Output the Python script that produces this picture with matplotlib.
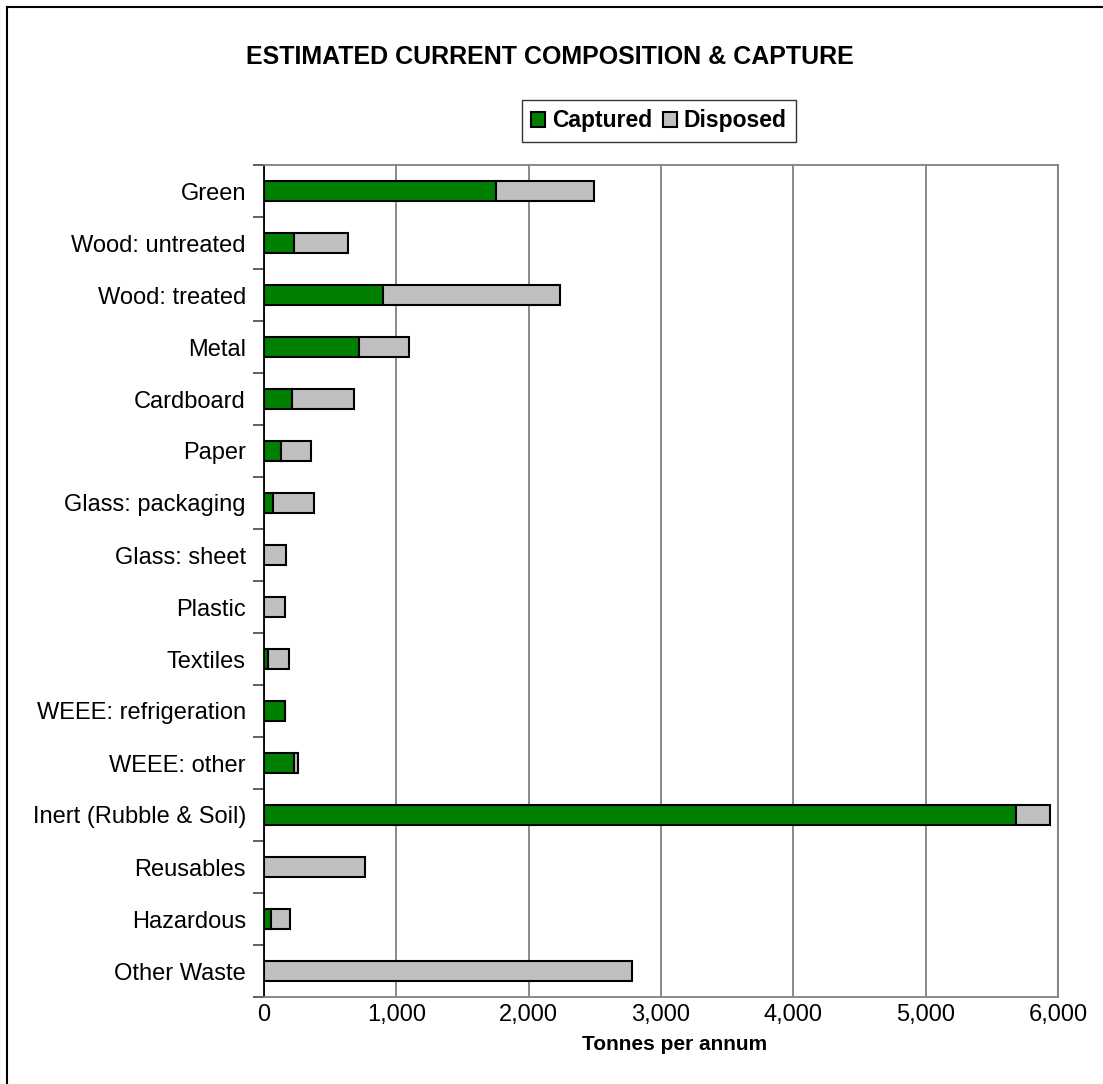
import numpy as np
import matplotlib.pyplot as plt
from matplotlib.lines import Line2D
from matplotlib.ticker import FuncFormatter, FixedLocator

plt.rcParams['font.family'] = ['Liberation Sans', 'DejaVu Sans']

categories = [
    "Green", "Wood: untreated", "Wood: treated", "Metal", "Cardboard",
    "Paper", "Glass: packaging", "Glass: sheet", "Plastic", "Textiles",
    "WEEE: refrigeration", "WEEE: other", "Inert (Rubble & Soil)",
    "Reusables", "Hazardous", "Other Waste",
]
captured = [1756, 224, 902, 718, 211, 128, 70, 0, 0, 27, 156, 224, 5681, 0, 55, 0]
disposed = [735, 411, 1332, 380, 466, 224, 310, 168, 156, 159, 0, 30, 257, 760, 144, 2784]

W, H = 1103, 1084
fig = plt.figure(figsize=(W / 100, H / 100), dpi=100)
ax = fig.add_axes([264 / W, 87 / H, (1058 - 264) / W, (997 - 165) / H])

y = np.arange(len(categories))
cap = np.array(captured)
dis = np.array(disposed)

ax.barh(y, cap, height=0.4, color="#008000", edgecolor="black", linewidth=1.5,
        label="Captured", zorder=3)
ax.barh(y, dis, left=cap, height=0.4, color="#c0c0c0", edgecolor="black",
        linewidth=1.5, label="Disposed", zorder=3)

ax.set_xlim(0, 6000)
ax.set_ylim(len(categories) - 0.5, -0.5)
ax.set_xticks(range(0, 6001, 1000))
ax.xaxis.set_major_formatter(FuncFormatter(lambda v, p: "{:,.0f}".format(v)))
ax.tick_params(axis="x", length=0, labelsize=17, pad=5)

ax.set_yticks(y)
ax.set_yticklabels(categories, fontsize=17)
ax.tick_params(axis="y", which="major", length=0, pad=13)
ax.yaxis.set_minor_locator(FixedLocator(np.arange(-0.5, len(categories), 1.0)))
ax.tick_params(axis="y", which="minor", length=8, width=1.2, color="#444444")

ax.grid(True, axis="x", color="#808080", linewidth=1.3, zorder=0)
for side in ["top", "right", "bottom"]:
    ax.spines[side].set_color("#808080")
    ax.spines[side].set_linewidth(1.3)
ax.spines["left"].set_color("black")
ax.spines["left"].set_linewidth(1.3)

ax.set_xlabel("Tonnes per annum", fontsize=15, fontweight="bold")
ax.xaxis.set_label_coords((675 - 264) / (1058 - 264), -(1045 - 997) / (997 - 165),
                          transform=ax.transAxes)
ax.xaxis.label.set_va("center")

fig.text(550 / W, 1 - 57 / H, "ESTIMATED CURRENT COMPOSITION & CAPTURE",
         ha="center", va="center", fontsize=18, fontweight="bold")

leg = fig.legend(loc="center", bbox_to_anchor=(659 / W, 1 - 121 / H), ncol=2,
                 frameon=True, fancybox=False, edgecolor="black",
                 prop={"size": 16.5, "weight": "bold"}, handlelength=0.6,
                 handleheight=0.6, handletextpad=0.3, columnspacing=0.5,
                 borderpad=0.4, borderaxespad=0)
leg.get_frame().set_linewidth(1.0)

# outer chart border (left and top visible)
fig.add_artist(Line2D([7 / W, 7 / W], [0, 1 - 7 / H], color="black", linewidth=1.5,
                      transform=fig.transFigure))
fig.add_artist(Line2D([7 / W, 1], [1 - 7 / H, 1 - 7 / H], color="black", linewidth=1.5,
                      transform=fig.transFigure))

fig.savefig("out.png", dpi=100)
